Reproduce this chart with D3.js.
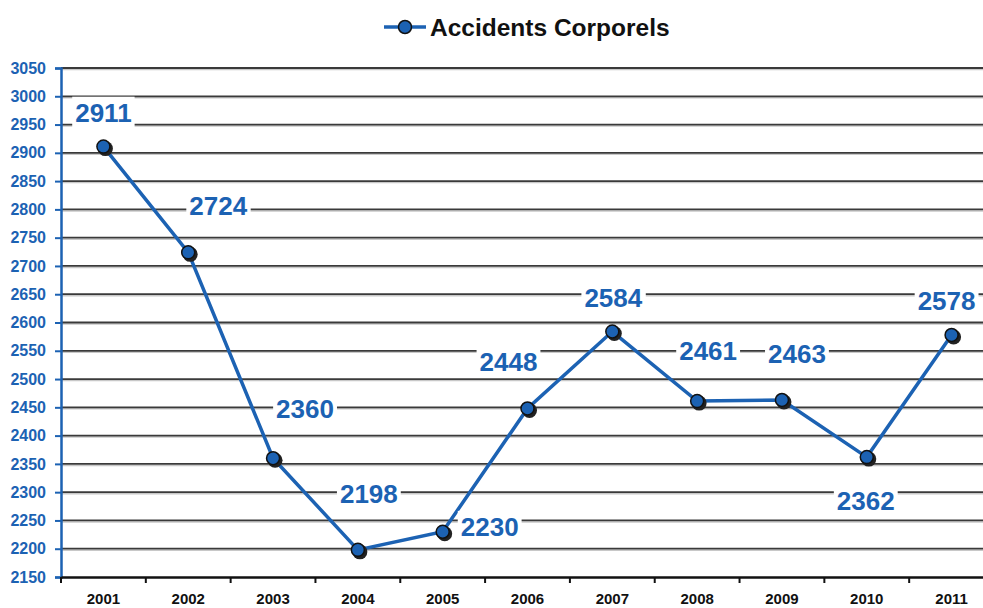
<!DOCTYPE html>
<html>
<head>
<meta charset="utf-8">
<script src="https://cdn.jsdelivr.net/npm/d3@7"></script>
<style>
  body { margin: 0; background: #fff; }
  text { font-family: "Liberation Sans", Arial, sans-serif; font-weight: bold; }
</style>
</head>
<body>
<div id="chart"></div>
<script>
var years = ["2001", "2002", "2003", "2004", "2005", "2006", "2007", "2008", "2009", "2010", "2011"];
var accidents = [2911, 2724, 2360, 2198, 2230, 2448, 2584, 2461, 2463, 2362, 2578];
var yTicks = d3.range(2150, 3051, 50);
// label offsets relative to each point (dx, dy)
var labelOffsets = [[0, -34], [30, -46], [32, -49], [11, -56], [47, -5], [-19, -47], [1, -34], [11, -50], [15, -46], [-1, 44], [-5, -34]];

var W = 983, H = 608;
var margin = { top: 68, right: -11, bottom: 31, left: 61 };
var width = W - margin.left - margin.right,
    height = H - margin.top - margin.bottom;

var blue = "#1c62b3";

var svg = d3.select("#chart").append("svg")
    .attr("width", W)
    .attr("height", H);

var g = svg.append("g")
    .attr("transform", "translate(" + margin.left + "," + margin.top + ")");

var x = d3.scaleBand().domain(years).range([0, width]);
var y = d3.scaleLinear().domain([2150, 3050]).range([height, 0]);

// gridlines
yTicks.slice(1).forEach(function (t) {
    g.append("line")
        .attr("x1", 0).attr("x2", width)
        .attr("y1", y(t) + 1.5).attr("y2", y(t) + 1.5)
        .style("stroke", "#c8c8c8").style("stroke-width", 1.5);
    g.append("line")
        .attr("x1", 0).attr("x2", width)
        .attr("y1", y(t)).attr("y2", y(t))
        .style("stroke", "#3a3a3a").style("stroke-width", 1.8);
});

// y axis
var yAxis = g.append("g")
    .call(d3.axisLeft(y).tickValues(yTicks).tickFormat(d3.format("d")).tickSize(6).tickPadding(9));
yAxis.select(".domain").style("stroke", blue).style("stroke-width", 2.5);
yAxis.selectAll(".tick line").style("stroke", blue).style("stroke-width", 2);
yAxis.selectAll(".tick text")
    .style("fill", blue).style("font-size", "16px")
    .style("font-family", "Liberation Sans, Arial, sans-serif").style("font-weight", "bold");

// x axis
var xAxis = g.append("g")
    .attr("transform", "translate(0," + height + ")")
    .call(d3.axisBottom(x).tickSize(0).tickPadding(16));
xAxis.select(".domain").style("stroke", "#111").style("stroke-width", 2.5);
xAxis.selectAll(".tick text")
    .style("fill", "#111").style("font-size", "15px")
    .style("font-family", "Liberation Sans, Arial, sans-serif").style("font-weight", "bold");
years.forEach(function (yr) {
    g.append("line")
        .attr("x1", x(yr)).attr("x2", x(yr))
        .attr("y1", height).attr("y2", height + 6)
        .style("stroke", "#111").style("stroke-width", 2);
});

var cx = function (d, i) { return x(years[i]) + x.bandwidth() / 2; };
var cy = function (d) { return y(d); };

var line = d3.line()
    .x(function (d, i) { return cx(d, i); })
    .y(function (d) { return cy(d); });

g.append("path")
    .datum(accidents)
    .attr("d", line)
    .style("fill", "none")
    .style("stroke", blue)
    .style("stroke-width", 3.5);

// markers with shadow
g.selectAll(".shadow")
    .data(accidents)
    .enter().append("circle")
    .attr("cx", function (d, i) { return cx(d, i) + 2; })
    .attr("cy", function (d) { return cy(d) + 2; })
    .attr("r", 7.5)
    .style("fill", "#222");
g.selectAll(".dot")
    .data(accidents)
    .enter().append("circle")
    .attr("cx", cx)
    .attr("cy", cy)
    .attr("r", 6.5)
    .style("fill", blue)
    .style("stroke", "#111")
    .style("stroke-width", 1.5);

// data labels with white background
var labels = g.selectAll(".lbl")
    .data(accidents)
    .enter().append("g");
labels.each(function (d, i) {
    var lg = d3.select(this);
    var t = lg.append("text")
        .attr("x", cx(d, i) + labelOffsets[i][0])
        .attr("y", cy(d) + labelOffsets[i][1])
        .attr("text-anchor", "middle")
        .attr("dy", "0.35em")
        .style("fill", blue)
        .style("font-size", "26px")
        .text(d);
    var bb = t.node().getBBox();
    lg.insert("rect", "text")
        .attr("x", bb.x - 3).attr("y", bb.y - 1)
        .attr("width", bb.width + 6).attr("height", bb.height + 2)
        .style("fill", "#fff");
});

// legend
var leg = svg.append("g").attr("transform", "translate(384,27)");
leg.append("line").attr("x1", 0).attr("x2", 42).attr("y1", 0).attr("y2", 0)
    .style("stroke", blue).style("stroke-width", 3.5);
leg.append("circle").attr("cx", 21).attr("cy", 0).attr("r", 6.5)
    .style("fill", blue).style("stroke", "#111").style("stroke-width", 1.5);
leg.append("text").attr("x", 46).attr("y", 0).attr("dy", "0.36em")
    .style("fill", "#111").style("font-size", "24.5px")
    .text("Accidents Corporels");
</script>
</body>
</html>
